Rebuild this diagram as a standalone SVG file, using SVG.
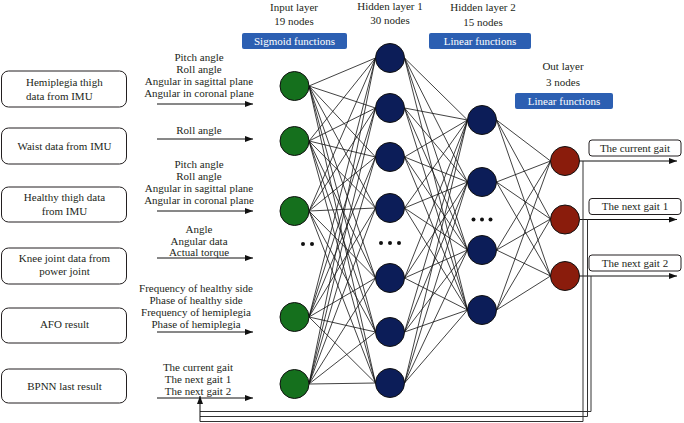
<svg xmlns="http://www.w3.org/2000/svg" width="684" height="423" viewBox="0 0 684 423">
<style>
text{font-family:"Liberation Serif","Times New Roman",serif;font-size:11px;fill:#231f20}
.c{text-anchor:middle}
.box{fill:#fff;stroke:#231f20;stroke-width:1}
.fn{fill:#2c5fb2}
.fnt{fill:#fff;text-anchor:middle}
.w{stroke:#111;stroke-width:0.8;fill:none}
.ar{stroke:#111;stroke-width:1;fill:none}
.fb{stroke:#333;stroke-width:1;fill:none}
.in{fill:#15701d;stroke:#111;stroke-width:1}
.h{fill:#0c1d58;stroke:#111;stroke-width:1}
.o{fill:#8a1c0c;stroke:#111;stroke-width:1}
.dot{fill:#111}
</style>
<defs>
<marker id="ah" viewBox="0 0 8 6" refX="8" refY="3" markerWidth="8" markerHeight="6" markerUnits="userSpaceOnUse" orient="auto"><path d="M0,0L8,3L0,6z" fill="#111"/></marker>
</defs>

<g id="headers">
<text class="c" x="294" y="11">Input layer</text>
<text class="c" x="294" y="25">19 nodes</text>
<rect class="fn" x="242" y="33" width="105" height="16" rx="2"/>
<text class="fnt" x="294.5" y="45">Sigmoid functions</text>
<text class="c" x="390" y="10">Hidden layer 1</text>
<text class="c" x="390" y="24">30 nodes</text>
<text class="c" x="483" y="11">Hidden layer 2</text>
<text class="c" x="483" y="26">15 nodes</text>
<rect class="fn" x="429" y="33" width="102" height="16" rx="2"/>
<text class="fnt" x="480" y="45">Linear functions</text>
<text class="c" x="563" y="70">Out layer</text>
<text class="c" x="563" y="86">3 nodes</text>
<rect class="fn" x="515" y="93" width="98" height="16" rx="2"/>
<text class="fnt" x="564" y="105">Linear functions</text>
</g>

<g id="connectors">
<path class="w" d="M309 86L375.5 58M309 86L375.5 108M309 86L375.5 157M309 86L375.5 208M309 86L375.5 278M309 86L375.5 332M309 86L375.5 383
M309 141L375.5 58M309 141L375.5 108M309 141L375.5 157M309 141L375.5 208M309 141L375.5 278M309 141L375.5 332M309 141L375.5 383
M309 211L375.5 58M309 211L375.5 108M309 211L375.5 157M309 211L375.5 208M309 211L375.5 278M309 211L375.5 332M309 211L375.5 383
M309 317L375.5 58M309 317L375.5 108M309 317L375.5 157M309 317L375.5 208M309 317L375.5 278M309 317L375.5 332M309 317L375.5 383
M309 384L375.5 58M309 384L375.5 108M309 384L375.5 157M309 384L375.5 208M309 384L375.5 278M309 384L375.5 332M309 384L375.5 383"/>
<path class="w" d="M404.5 58L467.5 120M404.5 58L467.5 182M404.5 58L467.5 250M404.5 58L467.5 310
M404.5 108L467.5 120M404.5 108L467.5 182M404.5 108L467.5 250M404.5 108L467.5 310
M404.5 157L467.5 120M404.5 157L467.5 182M404.5 157L467.5 250M404.5 157L467.5 310
M404.5 208L467.5 120M404.5 208L467.5 182M404.5 208L467.5 250M404.5 208L467.5 310
M404.5 278L467.5 120M404.5 278L467.5 182M404.5 278L467.5 250M404.5 278L467.5 310
M404.5 332L467.5 120M404.5 332L467.5 182M404.5 332L467.5 250M404.5 332L467.5 310
M404.5 383L467.5 120M404.5 383L467.5 182M404.5 383L467.5 250M404.5 383L467.5 310"/>
<path class="w" d="M496.5 120L550.5 161M496.5 120L550.5 219M496.5 120L550.5 276
M496.5 182L550.5 161M496.5 182L550.5 219M496.5 182L550.5 276
M496.5 250L550.5 161M496.5 250L550.5 219M496.5 250L550.5 276
M496.5 310L550.5 161M496.5 310L550.5 219M496.5 310L550.5 276"/>
<line class="ar" x1="157" y1="104" x2="253" y2="104" marker-end="url(#ah)"/>
<line class="ar" x1="157" y1="139" x2="253" y2="139" marker-end="url(#ah)"/>
<line class="ar" x1="157" y1="211" x2="253" y2="211" marker-end="url(#ah)"/>
<line class="ar" x1="157" y1="258" x2="253" y2="258" marker-end="url(#ah)"/>
<line class="ar" x1="157" y1="332" x2="253" y2="332" marker-end="url(#ah)"/>
<line class="ar" x1="157" y1="398" x2="253" y2="398" marker-end="url(#ah)"/>
<line class="ar" x1="579.5" y1="161" x2="677" y2="161" marker-end="url(#ah)"/>
<line class="ar" x1="579.5" y1="219.5" x2="677" y2="219.5" marker-end="url(#ah)"/>
<line class="ar" x1="579.5" y1="276" x2="677" y2="276" marker-end="url(#ah)"/>
<path class="fb" d="M583 161V421.5H200"/>
<path class="fb" d="M587.5 219.5V416.5H200"/>
<path class="fb" d="M591 276V411.5H200"/>
<line class="ar" x1="200" y1="421.5" x2="200" y2="396" marker-end="url(#ah)"/>
</g>

<g id="src-hemiplegia"><rect class="box" x="1.5" y="71" width="125" height="36" rx="7"/><text x="26" y="85.5">Hemiplegia thigh</text><text x="26" y="99.5">data from IMU</text></g>
<g id="src-waist"><rect class="box" x="1.5" y="128" width="125" height="36" rx="7"/><text class="c" x="64.5" y="149.5">Waist data from IMU</text></g>
<g id="src-healthy"><rect class="box" x="1.5" y="187" width="125" height="35" rx="7"/><text class="c" x="64.5" y="201">Healthy thigh data</text><text class="c" x="64.5" y="214.5">from IMU</text></g>
<g id="src-knee"><rect class="box" x="1.5" y="248" width="125" height="36" rx="7"/><text class="c" x="64.5" y="262">Knee joint data from</text><text class="c" x="64.5" y="275">power joint</text></g>
<g id="src-afo"><rect class="box" x="1.5" y="308" width="125" height="35" rx="7"/><text class="c" x="64.5" y="328">AFO result</text></g>
<g id="src-bpnn"><rect class="box" x="1.5" y="369" width="125" height="34" rx="7"/><text class="c" x="64.5" y="390">BPNN last result</text></g>

<g id="labels">
<text class="c" x="199" y="61">Pitch angle</text>
<text class="c" x="199" y="73">Roll angle</text>
<text class="c" x="199" y="85">Angular in sagittal plane</text>
<text class="c" x="199" y="97">Angular in coronal plane</text>
<text class="c" x="199" y="134">Roll angle</text>
<text class="c" x="199" y="168">Pitch angle</text>
<text class="c" x="199" y="180">Roll angle</text>
<text class="c" x="199" y="192">Angular in sagittal plane</text>
<text class="c" x="199" y="204">Angular in coronal plane</text>
<text class="c" x="199" y="233">Angle</text>
<text class="c" x="199" y="244.5">Angular data</text>
<text class="c" x="199" y="256">Actual torque</text>
<text class="c" x="196" y="292">Frequency of healthy side</text>
<text class="c" x="196" y="304">Phase of healthy side</text>
<text class="c" x="196" y="316">Frequency of hemiplegia</text>
<text class="c" x="196" y="328">Phase of hemiplegia</text>
<text class="c" x="198" y="371">The current gait</text>
<text class="c" x="198" y="383">The next gait 1</text>
<text class="c" x="198" y="395">The next gait 2</text>
</g>

<g id="input-layer">
<circle class="in" cx="294.5" cy="86" r="14.5"/>
<circle class="in" cx="294.5" cy="141" r="14.5"/>
<circle class="in" cx="294.5" cy="211" r="14.5"/>
<circle class="in" cx="294.5" cy="317" r="14.5"/>
<circle class="in" cx="294.5" cy="384" r="14.5"/>
<circle class="dot" cx="303" cy="244" r="2"/><circle class="dot" cx="312" cy="244" r="2"/>
</g>
<g id="hidden-layer-1">
<circle class="h" cx="390" cy="58" r="14.5"/>
<circle class="h" cx="390" cy="108" r="14.5"/>
<circle class="h" cx="390" cy="157" r="14.5"/>
<circle class="h" cx="390" cy="208" r="14.5"/>
<circle class="h" cx="390" cy="278" r="14.5"/>
<circle class="h" cx="390" cy="332" r="14.5"/>
<circle class="h" cx="390" cy="383" r="14.5"/>
<circle class="dot" cx="381" cy="243" r="2"/><circle class="dot" cx="390" cy="243" r="2"/><circle class="dot" cx="399" cy="243" r="2"/>
</g>
<g id="hidden-layer-2">
<circle class="h" cx="482" cy="120" r="14.5"/>
<circle class="h" cx="482" cy="182" r="14.5"/>
<circle class="h" cx="482" cy="250" r="14.5"/>
<circle class="h" cx="482" cy="310" r="14.5"/>
<circle class="dot" cx="473.5" cy="219.5" r="2"/><circle class="dot" cx="482" cy="219.5" r="2"/><circle class="dot" cx="490.5" cy="219.5" r="2"/>
</g>
<g id="output-layer">
<circle class="o" cx="565" cy="161" r="14.5"/>
<circle class="o" cx="565" cy="219.5" r="14.5"/>
<circle class="o" cx="565" cy="276" r="14.5"/>
</g>

<g id="out-current"><rect class="box" x="589" y="140" width="92" height="16" rx="3"/><text class="c" x="635" y="151.5">The current gait</text></g>
<g id="out-next1"><rect class="box" x="589" y="198.5" width="92" height="16" rx="3"/><text class="c" x="635" y="210">The next gait 1</text></g>
<g id="out-next2"><rect class="box" x="589" y="255" width="92" height="16" rx="3"/><text class="c" x="635" y="266.5">The next gait 2</text></g>
</svg>
